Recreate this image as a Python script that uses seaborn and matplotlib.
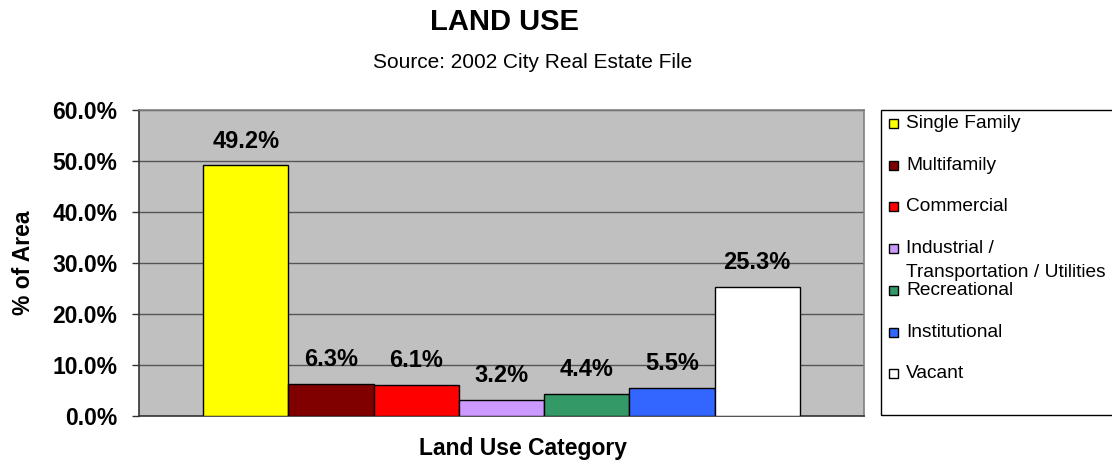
import matplotlib
matplotlib.use("Agg")
import matplotlib.pyplot as plt
import matplotlib.patches as mpatches
import seaborn as sns
import pandas as pd

# Land use shares (percent of city area)
categories = [
    "Single Family",
    "Multifamily",
    "Commercial",
    "Industrial /\nTransportation / Utilities",
    "Recreational",
    "Institutional",
    "Vacant",
]
shares = [49.2, 6.3, 6.1, 3.2, 4.4, 5.5, 25.3]
colors = ["#FFFF00", "#800000", "#FF0000", "#CC99FF", "#339966", "#3366FF", "#FFFFFF"]
y_ticks = [0, 10, 20, 30, 40, 50, 60]

sns.set_style("white")
plt.rcParams["font.family"] = ["Liberation Sans", "DejaVu Sans"]
plt.rcParams.update({
    "text.color": "black",
    "axes.labelcolor": "black",
    "xtick.color": "black",
    "ytick.color": "black",
})

df = pd.DataFrame({"group": [""] * len(categories), "category": categories, "share": shares})

W, H = 1112, 461
fig = plt.figure(figsize=(W / 100, H / 100), dpi=100)
ax = fig.add_axes([139 / W, 1 - 416 / H, 725 / W, 306 / H])
ax.set_facecolor("#C0C0C0")

sns.barplot(
    data=df, x="group", y="share", hue="category", hue_order=categories,
    palette=colors, width=0.823, dodge=True, saturation=1,
    edgecolor="black", linewidth=1.0, legend=False, ax=ax, zorder=3,
)

ax.set_xlim(-0.5, 0.5)
ax.set_ylim(0, 60)
ax.set_yticks(y_ticks)
ax.set_yticklabels([f"{v:.1f}%" for v in y_ticks], fontsize=16.5, fontweight="bold")
ax.set_xticks([])
ax.set_xlabel("")
ax.set_ylabel("")
ax.tick_params(axis="y", direction="out", length=5, width=1, color="#333333",
               labelcolor="black", pad=10.5, left=True)
ax.yaxis.grid(True, color="#555555", linewidth=1, zorder=0)
ax.set_axisbelow(True)

for side in ("left", "bottom"):
    ax.spines[side].set_color("#333333")
    ax.spines[side].set_linewidth(1.2)
for side in ("top", "right"):
    ax.spines[side].set_color("#808080")
    ax.spines[side].set_linewidth(1.2)

# Value labels above each bar
for container, val in zip(ax.containers, shares):
    ax.bar_label(container, labels=[f"{val:.1f}%"], padding=9,
                 fontsize=17, fontweight="bold", color="black")

# Titles and axis labels
fig.text(504.5 / W, 1 - 30 / H, "LAND USE", ha="center", va="baseline",
         fontsize=21, fontweight="bold", color="black")
fig.text(532.5 / W, 1 - 68 / H, "Source: 2002 City Real Estate File", ha="center",
         va="baseline", fontsize=15, color="black")
fig.text(24 / W, 1 - 262.5 / H, "% of Area", rotation=90, ha="center", va="center",
         fontsize=16.5, fontweight="bold", color="black")
fig.text(523 / W, 1 - 455 / H, "Land Use Category", ha="center", va="baseline",
         fontsize=16.5, fontweight="bold", color="black")

# Legend panel on the right
frame = mpatches.Rectangle((881 / W, 1 - 415 / H), 0.3, 305 / H,
                           transform=fig.transFigure, facecolor="white",
                           edgecolor="black", linewidth=1, clip_on=False)
fig.patches.append(frame)
step = 41.7
for i, (cat, col) in enumerate(zip(categories, colors)):
    base = 128 + step * i
    sq = mpatches.Rectangle((889 / W, 1 - base / H), 9 / W, 9 / H,
                            transform=fig.transFigure, facecolor=col,
                            edgecolor="black", linewidth=1, clip_on=False)
    fig.patches.append(sq)
    for j, line in enumerate(cat.split("\n")):
        fig.text(906 / W, 1 - (base + 24 * j) / H, line, ha="left", va="baseline",
                 fontsize=13.8, color="black")

fig.savefig("out.png", dpi=100)
